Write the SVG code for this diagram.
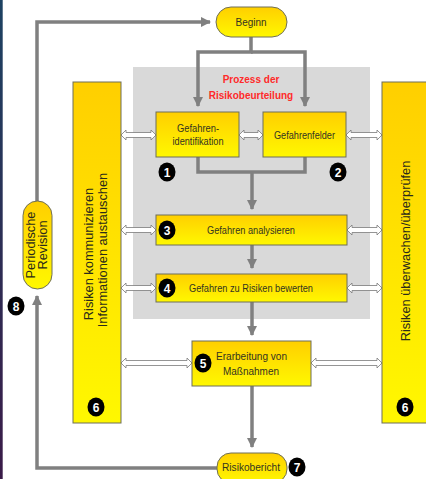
<svg xmlns="http://www.w3.org/2000/svg" width="426" height="479" viewBox="0 0 426 479">
<defs>
<linearGradient id="yg" x1="0" y1="0" x2="0" y2="1">
<stop offset="0" stop-color="#ffcf00"/>
<stop offset="1" stop-color="#fff800"/>
</linearGradient>
<linearGradient id="edge" x1="0" y1="0" x2="0" y2="1">
<stop offset="0" stop-color="#1d4262"/>
<stop offset="1" stop-color="#3a1b48"/>
</linearGradient>
<marker id="ah" viewBox="0 0 10 10" refX="9" refY="5" markerWidth="3" markerHeight="3" orient="auto" markerUnits="strokeWidth">
<path d="M0,0 L10,5 L0,10 Z" fill="#808080"/>
</marker>
<style>
.node{fill:url(#yg);stroke:#6e6e5a;stroke-width:1}
.t{font-family:"Liberation Sans",Arial,sans-serif;font-size:10px;fill:#333320;text-anchor:middle}
.bt{font-family:"Liberation Sans",Arial,sans-serif;font-size:12.8px;fill:#2a2a1a;text-anchor:middle}
.red{font-family:"Liberation Sans",Arial,sans-serif;font-size:10px;font-weight:bold;fill:#ff2a2a;text-anchor:middle}
.conn{fill:none;stroke:#808080;stroke-width:3.5}
.dbl{fill:#ffffff;stroke:#7a7a7a;stroke-width:0.8}
.badge ellipse{fill:#000}
.badge text{font-family:"Liberation Sans",Arial,sans-serif;font-size:12px;font-weight:bold;fill:#fff;text-anchor:middle}
</style>
</defs>
<rect x="0" y="0" width="426" height="479" fill="#ffffff"/>
<rect x="0" y="0" width="2.7" height="479" fill="url(#edge)"/>
<rect id="prozess-bg" x="133" y="67" width="237" height="252" fill="#d9d9d9"/>
<text class="red" x="251" y="83">Prozess der</text>
<text class="red" x="251" y="99">Risikobeurteilung</text>

<g id="connectors">
<path class="conn" d="M37,201 V22 H210" marker-end="url(#ah)"/>
<path class="conn" d="M251,37 V52 H198 V106" marker-end="url(#ah)"/>
<path class="conn" d="M251,52 H305 V106" marker-end="url(#ah)"/>
<path class="conn" d="M198,157 V172 H305 V157"/>
<path class="conn" d="M252,172 V209" marker-end="url(#ah)"/>
<path class="conn" d="M252,245 V268" marker-end="url(#ah)"/>
<path class="conn" d="M252,302 V335" marker-end="url(#ah)"/>
<path class="conn" d="M252,386 V447" marker-end="url(#ah)"/>
<path class="conn" d="M217,468 H37 V296" marker-end="url(#ah)"/>
<path class="dbl" d="M121,135 L126,130 L126,132.5 L151,132.5 L151,130 L156,135 L151,140 L151,137.5 L126,137.5 L126,140 Z"/>
<path class="dbl" d="M239,135 L244,130 L244,132.5 L258,132.5 L258,130 L263,135 L258,140 L258,137.5 L244,137.5 L244,140 Z"/>
<path class="dbl" d="M346,135 L351,130 L351,132.5 L377,132.5 L377,130 L382,135 L377,140 L377,137.5 L351,137.5 L351,140 Z"/>
<path class="dbl" d="M121,230 L126,225 L126,227.5 L151,227.5 L151,225 L156,230 L151,235 L151,232.5 L126,232.5 L126,235 Z"/>
<path class="dbl" d="M347,230 L352,225 L352,227.5 L377,227.5 L377,225 L382,230 L377,235 L377,232.5 L352,232.5 L352,235 Z"/>
<path class="dbl" d="M121,288 L126,283 L126,285.5 L151,285.5 L151,283 L156,288 L151,293 L151,290.5 L126,290.5 L126,293 Z"/>
<path class="dbl" d="M347,288 L352,283 L352,285.5 L377,285.5 L377,283 L382,288 L377,293 L377,290.5 L352,290.5 L352,293 Z"/>
<path class="dbl" d="M121,363 L126,358 L126,360.5 L187,360.5 L187,358 L192,363 L187,368 L187,365.5 L126,365.5 L126,368 Z"/>
<path class="dbl" d="M311,363 L316,358 L316,360.5 L377,360.5 L377,358 L382,363 L377,368 L377,365.5 L316,365.5 L316,368 Z"/>
</g>

<g id="beginn">
<rect class="node" x="216" y="7" width="71" height="30" rx="15"/>
<text class="t" x="251" y="26" textLength="31" lengthAdjust="spacingAndGlyphs">Beginn</text>
</g>

<g id="gefahrenidentifikation">
<rect class="node" x="156" y="112" width="83" height="45"/>
<text class="t" x="198" y="132" textLength="42" lengthAdjust="spacingAndGlyphs">Gefahren-</text>
<text class="t" x="198" y="145" textLength="51" lengthAdjust="spacingAndGlyphs">identifikation</text>
</g>

<g id="gefahrenfelder">
<rect class="node" x="263" y="112" width="83" height="45"/>
<text class="t" x="304.5" y="139" textLength="61" lengthAdjust="spacingAndGlyphs">Gefahrenfelder</text>
</g>

<g id="analysieren">
<rect class="node" x="156" y="215" width="191" height="30"/>
<text class="t" x="251" y="234" textLength="88" lengthAdjust="spacingAndGlyphs">Gefahren analysieren</text>
</g>

<g id="bewerten">
<rect class="node" x="156" y="274" width="191" height="28"/>
<text class="t" x="251" y="292" textLength="124" lengthAdjust="spacingAndGlyphs">Gefahren zu Risiken bewerten</text>
</g>

<g id="massnahmen">
<rect class="node" x="192" y="341" width="119" height="45"/>
<text class="t" x="251.5" y="360" textLength="71" lengthAdjust="spacingAndGlyphs">Erarbeitung von</text>
<text class="t" x="251" y="375" textLength="56" lengthAdjust="spacingAndGlyphs">Maßnahmen</text>
</g>

<g id="risikobericht">
<rect class="node" x="217" y="453" width="70" height="30" rx="14"/>
<text class="t" x="251" y="471" textLength="58" lengthAdjust="spacingAndGlyphs">Risikobericht</text>
</g>

<g id="revision">
<rect class="node" x="23" y="201" width="29" height="88" rx="14.5"/>
<text class="bt" transform="translate(35,245) rotate(-90)" font-size="12.4">Periodische</text>
<text class="bt" transform="translate(47,245) rotate(-90)" font-size="12.4">Revision</text>
</g>

<g id="kommunizieren">
<rect class="node" x="73" y="82" width="48" height="341"/>
<text class="bt" transform="translate(93,254) rotate(-90)">Risiken kommunizieren</text>
<text class="bt" transform="translate(107,250) rotate(-90)">Informationen austauschen</text>
</g>

<g id="ueberwachen">
<rect class="node" x="382" y="82" width="50" height="341"/>
<text class="bt" transform="translate(409.5,251) rotate(-90)" font-size="12.5">Risiken überwachen/überprüfen</text>
</g>

<g id="badges">
<g class="badge"><ellipse cx="167" cy="172" rx="8.5" ry="9.5"/><text x="167" y="176.5">1</text></g>
<g class="badge"><ellipse cx="338" cy="172" rx="8.5" ry="9.5"/><text x="338" y="176.5">2</text></g>
<g class="badge"><ellipse cx="167" cy="230" rx="8.5" ry="9.5"/><text x="167" y="234.5">3</text></g>
<g class="badge"><ellipse cx="167" cy="288" rx="8.5" ry="9.5"/><text x="167" y="292.5">4</text></g>
<g class="badge"><ellipse cx="203" cy="363" rx="8.5" ry="9.5"/><text x="203" y="367.5">5</text></g>
<g class="badge"><ellipse cx="96" cy="407" rx="8.5" ry="9.5"/><text x="96" y="411.5">6</text></g>
<g class="badge"><ellipse cx="405" cy="407" rx="8.5" ry="9.5"/><text x="405" y="411.5">6</text></g>
<g class="badge"><ellipse cx="297" cy="467" rx="8.5" ry="9.5"/><text x="297" y="471.5">7</text></g>
<g class="badge"><ellipse cx="16" cy="306" rx="8.5" ry="9.5"/><text x="16" y="310.5">8</text></g>
</g>
</svg>
